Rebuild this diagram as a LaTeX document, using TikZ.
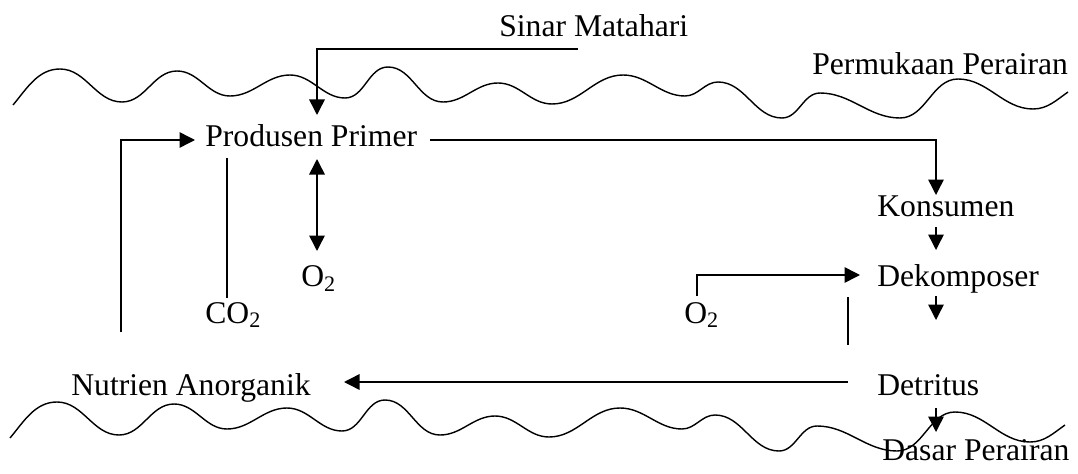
\documentclass[tikz,border=0pt]{standalone}
\usepackage{fontspec}
\setmainfont{Liberation Serif}
\usepackage{tikz}
\usetikzlibrary{arrows.meta,positioning,calc}

\newcommand{\gelombang}{(0.26,7.36) to[out=50,in=180] (1.20,8.08) to (2.44,7.42) to (3.54,8.04) to (4.60,7.54) to (5.80,7.96) to (6.90,7.50) to (7.76,8.12) to (8.86,7.42) to (9.96,7.80) to (11.04,7.38) to (12.46,7.96) to (13.70,7.54) to (14.36,7.82) to (15.64,7.10) to (16.40,7.60) to (18.00,7.10) to (19.16,7.88) to (20.66,7.28) to[out=0,in=215] (21.36,7.62)}

\begin{document}
\begin{tikzpicture}[scale=1.0,
    teks/.style={anchor=base west,inner sep=0pt,font=\fontsize{18pt}{22pt}\selectfont},
    garis/.style={line width=0.85pt},
    ombak/.style={line width=0.8pt,every to/.style={out=0,in=180,looseness=0.95}},
    panah/.style={garis,-{Triangle[width=0.31cm,length=0.31cm]}},
    panah2/.style={garis,{Triangle[width=0.31cm,length=0.31cm]}-{Triangle[width=0.31cm,length=0.31cm]}}]
        \useasboundingbox (0,0) rectangle (21.56,9.46);
        % permukaan dan dasar perairan
        \draw[ombak] \gelombang;
        \draw[ombak,shift={(-0.06,-6.66)}] \gelombang;
        % teks
        \node[teks] (sinar) at (9.98,8.72) {Sinar Matahari};
        \node[teks] (permukaan) at (16.24,7.96) {Permukaan Perairan};
        \node[teks] (produsen) at (4.10,6.53) {Produsen Primer};
        \node[teks] (konsumen) at (17.54,5.13) {Konsumen};
        \node[teks] (dekomposer) at (17.54,3.73) {Dekomposer};
        \node[teks] (detritus) at (17.54,1.56) {Detritus};
        \node[teks] (dasar) at (17.64,0.26) {Dasar Perairan};
        \node[teks] (nutrien) at (1.42,1.56) {Nutrien Anorganik};
        \node[teks] (oksigenA) at (6.02,3.73) {O\textsubscript{2}};
        \node[teks] (karbon) at (4.10,3.00) {CO\textsubscript{2}};
        \node[teks] (oksigenB) at (13.68,3.00) {O\textsubscript{2}};
        % titik ujung
        \coordinate (sinarA) at (11.56,8.48);
        \coordinate (sinarB) at (6.34,7.16);
        \coordinate (prodA) at (8.60,6.66);
        \coordinate (konsA) at (18.72,5.56);
        \coordinate (nutA) at (2.42,2.82);
        \coordinate (prodB) at (3.90,6.66);
        \coordinate (karbA) at (4.54,6.30);
        \coordinate (karbB) at (4.54,3.50);
        \coordinate (oksA) at (6.34,6.28);
        \coordinate (oksB) at (6.34,4.44);
        \coordinate (konsB) at (18.72,4.92);
        \coordinate (dekA) at (18.72,4.46);
        \coordinate (oksC) at (13.94,3.54);
        \coordinate (dekB) at (17.20,3.96);
        \coordinate (garisA) at (16.96,3.52);
        \coordinate (garisB) at (16.96,2.56);
        \coordinate (dekC) at (18.72,3.54);
        \coordinate (detA) at (18.72,3.06);
        \coordinate (detB) at (16.96,1.82);
        \coordinate (nutB) at (6.88,1.82);
        \coordinate (detC) at (18.72,1.30);
        \coordinate (dasA) at (18.72,0.82);
        % panah
        \draw[panah] (sinarA) -| (sinarB);
        \draw[panah] (prodA) -| (konsA);
        \draw[panah] (nutA) |- (prodB);
        \draw[garis] (karbA) -- (karbB);
        \draw[panah2] (oksA) -- (oksB);
        \draw[panah] (konsB) -- (dekA);
        \draw[panah] (oksC) |- (dekB);
        \draw[garis] (garisA) -- (garisB);
        \draw[panah] (dekC) -- (detA);
        \draw[panah] (detB) -- (nutB);
        \draw[panah] (detC) -- (dasA);
      \end{tikzpicture}
\end{document}
